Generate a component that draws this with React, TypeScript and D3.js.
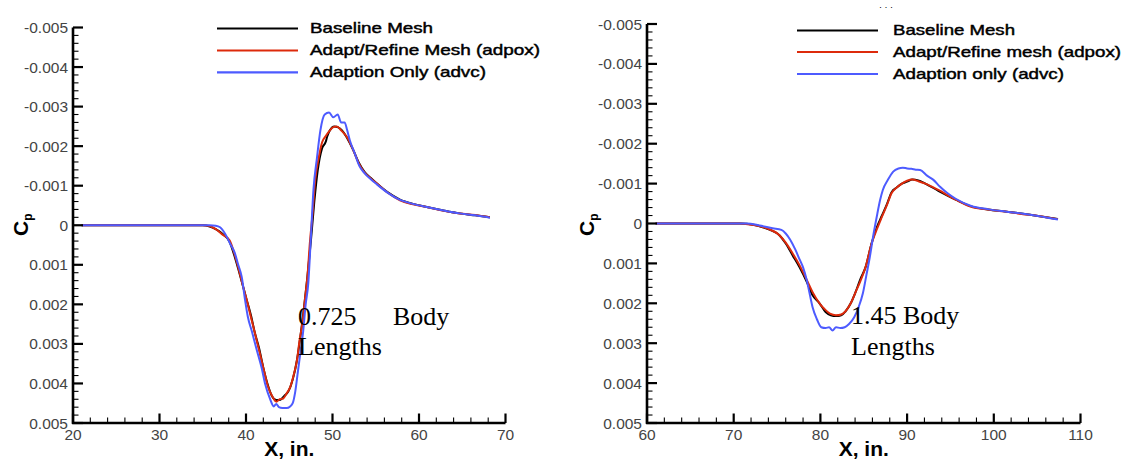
import React from "react";
import * as d3 from "d3";

// ---------- data ----------
type P = [number, number];

const seriesNames = ["Baseline Mesh", "Adapt/Refine Mesh (adpox)", "Adaption Only (advc)"];
const seriesNamesRight = ["Baseline Mesh", "Adapt/Refine mesh (adpox)", "Adaption only (advc)"];

const yTicks = [-0.005, -0.004, -0.003, -0.002, -0.001, 0, 0.001, 0.002, 0.003, 0.004, 0.005];
const yTickLabels = ["-0.005", "-0.004", "-0.003", "-0.002", "-0.001", "0", "0.001", "0.002", "0.003", "0.004", "0.005"];
const xTicksLeft = [20, 30, 40, 50, 60, 70];
const xTicksRight = [60, 70, 80, 90, 100, 110];

// Left panel (0.725 body lengths)
const leftBaseline: P[] = [
  [21, 0], [35, 0], [35.8, 0.00003], [36.5, 0.0001], [37.3, 0.00022], [38.1, 0.00042], [38.7, 0.0008],
  [39.1, 0.0011], [39.6, 0.0015], [40.1, 0.0019], [40.6, 0.0023], [41.0, 0.0027], [41.5, 0.0031],
  [42.0, 0.0036], [42.5, 0.00402], [43.0, 0.00432], [43.5, 0.00442], [44.0, 0.00441], [44.4, 0.00432],
  [44.9, 0.0042], [45.4, 0.0039], [45.9, 0.0034], [46.3, 0.0028], [46.7, 0.0021], [47.1, 0.0013],
  [47.5, 0.0004], [47.9, -0.0006], [48.3, -0.0014], [48.8, -0.00195], [49.2, -0.0021], [49.4, -0.00225],
  [49.7, -0.0024], [50.2, -0.0025], [50.6, -0.00248], [51.1, -0.0024], [51.7, -0.0022], [52.4, -0.0019],
  [53.0, -0.0016], [53.7, -0.00135], [54.4, -0.0012], [55.1, -0.00106], [56.4, -0.00083], [57.8, -0.00065],
  [59.3, -0.00054], [60.9, -0.00046], [62.7, -0.00038], [64.7, -0.0003], [66.5, -0.00025], [68.2, -0.0002],
];
const leftRefine: P[] = [
  [21, 0], [35, 0], [35.8, 0.00002], [36.5, 0.0001], [37.3, 0.00024], [38.1, 0.00038], [38.7, 0.00075],
  [39.1, 0.00106], [39.6, 0.0015], [40.1, 0.0019], [40.6, 0.00235], [41.0, 0.0027], [41.5, 0.00315],
  [42.0, 0.0036], [42.5, 0.00405], [43.1, 0.00435], [43.5, 0.00446], [43.9, 0.0044], [44.3, 0.00438],
  [44.7, 0.00425], [45.1, 0.0041], [45.5, 0.0038], [45.9, 0.0034], [46.2, 0.0029], [46.5, 0.0025],
  [46.8, 0.0019], [47.1, 0.0013], [47.4, 0.0004], [47.7, -0.0003], [48.0, -0.00114], [48.4, -0.0017],
  [48.8, -0.0021], [49.2, -0.00225], [49.7, -0.0024], [50.1, -0.00248], [50.5, -0.0025], [51.0, -0.0024],
  [51.7, -0.00222], [52.4, -0.0019], [53.0, -0.00158], [53.7, -0.00133], [54.4, -0.00119], [55.1, -0.00106],
  [56.4, -0.00082], [57.8, -0.00063], [59.3, -0.00053], [60.9, -0.00046], [62.7, -0.00037], [64.7, -0.0003],
  [66.5, -0.00026], [68.2, -0.0002],
];
const leftAdapt: P[] = [
  [21, 0], [35.8, 0], [36.5, 0.00001], [37.0, 0.00005], [37.6, 0.00022], [38.2, 0.00048], [38.7, 0.0007],
  [39.1, 0.001], [39.5, 0.0013], [39.9, 0.0019], [40.2, 0.0023], [40.7, 0.0027], [41.3, 0.0032],
  [41.8, 0.0036], [42.2, 0.004], [42.8, 0.0044], [43.2, 0.00458], [43.5, 0.00452], [43.8, 0.0046],
  [44.2, 0.00462], [44.7, 0.00462], [45.1, 0.00458], [45.4, 0.0045], [45.7, 0.0042], [46.0, 0.0037],
  [46.3, 0.0032], [46.6, 0.0027], [46.9, 0.002], [47.2, 0.00147], [47.5, 0.0003], [47.8, -0.0009],
  [48.2, -0.0017], [48.6, -0.0024], [49.1, -0.0028], [49.6, -0.00285], [50.1, -0.00273], [50.6, -0.0028],
  [51.0, -0.0026], [51.4, -0.0026], [51.7, -0.0024], [52.0, -0.00215], [52.6, -0.0018], [53.1, -0.0015],
  [53.7, -0.00132], [54.4, -0.00117], [55.1, -0.00104], [56.4, -0.00082], [57.8, -0.00064], [59.3, -0.00054],
  [60.9, -0.00046], [62.7, -0.00038], [64.7, -0.0003], [66.5, -0.00025], [68.2, -0.00019],
];

// Right panel (1.45 body lengths)
const rightBaseline: P[] = [
  [61, 0], [70.7, 0], [72.3, 0.00003], [73.8, 0.00013], [75.3, 0.0003], [76.0, 0.0005], [76.8, 0.0008],
  [77.6, 0.0011], [78.4, 0.00145], [79.1, 0.0018], [79.9, 0.002], [80.6, 0.00222], [81.2, 0.0023],
  [81.8, 0.00232], [82.4, 0.0023], [82.9, 0.0022], [83.5, 0.002], [84.0, 0.00175], [84.6, 0.0014],
  [85.2, 0.0011], [85.9, 0.0005], [86.5, 0.0001], [87.1, -0.0002], [87.7, -0.0005], [88.2, -0.00078],
  [88.8, -0.0009], [89.4, -0.001], [90.0, -0.00105], [90.6, -0.0011], [91.3, -0.00108], [92.1, -0.001],
  [93.6, -0.00082], [95.6, -0.0006], [97.4, -0.00043], [99.3, -0.00035], [101.3, -0.0003], [103.2, -0.00025],
  [105.1, -0.00019], [107.4, -0.00011],
];
const rightRefine: P[] = [
  [61, 0], [70.7, 0], [72.3, 0.00004], [73.8, 0.00012], [75.3, 0.0003], [76.0, 0.00048], [76.8, 0.00075],
  [77.6, 0.00105], [78.4, 0.0014], [79.1, 0.00172], [79.9, 0.002], [80.5, 0.00215], [81.1, 0.00226],
  [81.8, 0.0023], [82.4, 0.00228], [82.9, 0.0022], [83.5, 0.002], [84.0, 0.00175], [84.6, 0.00145],
  [85.2, 0.0011], [85.9, 0.0005], [86.5, 0.00015], [87.1, -0.00017], [87.7, -0.00048], [88.2, -0.00076],
  [88.8, -0.0009], [89.4, -0.001], [90.0, -0.00107], [90.6, -0.0011], [91.3, -0.00106], [92.1, -0.001],
  [93.6, -0.00084], [95.6, -0.0006], [97.4, -0.00042], [99.3, -0.00035], [101.3, -0.0003], [103.2, -0.00024],
  [105.1, -0.00019], [107.4, -0.00011],
];
const rightAdapt: P[] = [
  [61, 0], [71.5, 0], [73.0, 0.00005], [74.5, 0.00012], [75.5, 0.00016], [76.0, 0.00025], [76.5, 0.0004],
  [77.1, 0.00065], [77.6, 0.0009], [78.0, 0.0011], [78.4, 0.0014], [78.8, 0.0018], [79.1, 0.0021],
  [79.6, 0.0024], [80.1, 0.0026], [80.6, 0.00262], [81.0, 0.0026], [81.4, 0.00268], [81.8, 0.0026],
  [82.3, 0.00262], [82.8, 0.0026], [83.3, 0.00252], [83.9, 0.00235], [84.4, 0.0021], [84.9, 0.00175],
  [85.3, 0.0013], [85.7, 0.00084], [86.1, 0.0003], [86.5, -0.00017], [86.9, -0.0006], [87.2, -0.00084],
  [87.8, -0.0011], [88.4, -0.0013], [89.0, -0.00138], [89.5, -0.0014], [90.0, -0.00138], [90.5, -0.00137],
  [91.0, -0.00135], [91.5, -0.00134], [92.3, -0.0012], [93.0, -0.0011], [93.8, -0.00092], [94.6, -0.00077],
  [95.6, -0.00062], [97.4, -0.00044], [99.3, -0.00036], [101.3, -0.0003], [103.2, -0.00025], [105.1, -0.00019],
  [107.4, -0.0001],
];

const colors = ["#000000", "#dd2a0b", "#4d5bff"];

// ---------- panel ----------
type PanelProps = {
  xDomain: [number, number];
  xRange: [number, number];
  yRange: [number, number];
  xTicks: number[];
  series: P[][];
  names: string[];
  legendX: number;
  legendTextX: number;
  legendY: number[];
  legendWidths: number[];
  cpX: number;
};

function Panel(props: PanelProps) {
  const { xDomain, xRange, yRange, xTicks, series, names } = props;
  const x = d3.scaleLinear().domain(xDomain).range(xRange);
  const y = d3.scaleLinear().domain([-0.005, 0.005]).range(yRange);
  const x0 = xRange[0];
  const yb = yRange[1];
  const line = d3
    .line<P>()
    .x((d) => x(d[0]))
    .y((d) => y(d[1]))
    .curve(d3.curveMonotoneX);

  const xMinor = d3.range(xDomain[0], xDomain[1] + 0.001, 2).filter((v) => Math.abs(v % 10) > 0.01);
  const yMinor = d3.range(-0.005, 0.00501, 0.0002).filter((v) => Math.abs(Math.round(v * 10000) % 10) > 0);

  const tickFont = "'Liberation Sans', Arial, sans-serif";
  return (
    <g>
      {/* series */}
      {series.map((s, i) => (
        <path key={i} d={line(s) || ""} fill="none" stroke={colors[i]} strokeWidth={2} strokeLinejoin="round" />
      ))}
      {/* axes */}
      <line x1={x0} x2={x0} y1={yRange[0]} y2={yb + 1} stroke="#000" strokeWidth={2.6} />
      <line x1={x0 - 1} x2={xRange[1]} y1={yb} y2={yb} stroke="#000" strokeWidth={2.6} />
      {yTicks.map((v) => (
        <line key={"yt" + v} x1={x0} x2={x0 + 10} y1={y(v)} y2={y(v)} stroke="#000" strokeWidth={2.2} />
      ))}
      {yMinor.map((v) => (
        <line key={"ym" + v} x1={x0} x2={x0 + 5.5} y1={y(v)} y2={y(v)} stroke="#000" strokeWidth={1.1} />
      ))}
      {xTicks.map((v) => (
        <line key={"xt" + v} x1={x(v)} x2={x(v)} y1={yb} y2={yb - 9.5} stroke="#000" strokeWidth={2.2} />
      ))}
      {xMinor.map((v) => (
        <line key={"xm" + v} x1={x(v)} x2={x(v)} y1={yb} y2={yb - 5.5} stroke="#000" strokeWidth={1.1} />
      ))}
      {yTicks.map((v, i) => (
        <text
          key={"yl" + v}
          x={x0 - 5}
          y={y(v)}
          dy="0.36em"
          textAnchor="end"
          fontFamily={tickFont}
          fontSize={15.5}
          fill="#444"
        >
          {yTickLabels[i]}
        </text>
      ))}
      {xTicks.map((v) => (
        <text
          key={"xl" + v}
          x={x(v)}
          y={yb + 17}
          textAnchor="middle"
          fontFamily={tickFont}
          fontSize={15.5}
          fill="#444"
        >
          {v}
        </text>
      ))}
      {/* axis titles */}
      <text
        x={(xRange[0] + xRange[1]) / 2}
        y={456}
        textAnchor="middle"
        fontFamily={tickFont}
        fontWeight="bold"
        fontSize={21}
        fill="#000"
      >
        X, in.
      </text>
      <text
        transform={`translate(${props.cpX},236) rotate(-90)`}
        fontFamily={tickFont}
        fontWeight="bold"
        fontSize={21}
        fill="#000"
      >
        C
        <tspan dy={4} fontSize={12}>
          p
        </tspan>
      </text>
      {/* legend */}
      {names.map((n, i) => (
        <g key={"lg" + i}>
          <line
            x1={props.legendX}
            x2={props.legendX + 81}
            y1={props.legendY[i]}
            y2={props.legendY[i]}
            stroke={colors[i]}
            strokeWidth={2.2}
          />
          <text
            x={props.legendTextX}
            y={props.legendY[i]}
            dy="0.33em"
            fontFamily={tickFont}
            fontSize={15}
            fill="#000"
            stroke="#000"
            strokeWidth={0.45}
            textLength={props.legendWidths[i]}
            lengthAdjust="spacingAndGlyphs"
          >
            {n}
          </text>
        </g>
      ))}
    </g>
  );
}

export default function App() {
  const serif = "'Liberation Serif', 'Times New Roman', serif";
  return (
    <svg
      width={1131}
      height={465}
      style={{ position: "absolute", left: 0, top: 0, background: "#fff" }}
      xmlns="http://www.w3.org/2000/svg"
    >
      <rect width={1131} height={465} fill="#fff" />
      <Panel
        xDomain={[20, 70]}
        xRange={[73, 505.5]}
        yRange={[27.5, 423]}
        xTicks={xTicksLeft}
        series={[leftBaseline, leftRefine, leftAdapt]}
        names={seriesNames}
        legendX={217}
        legendTextX={310}
        legendY={[28.5, 50.5, 72.3]}
        legendWidths={[123, 230, 176]}
        cpX={28}
      />
      <Panel
        xDomain={[60, 110]}
        xRange={[647, 1080.5]}
        yRange={[24, 423]}
        xTicks={xTicksRight}
        series={[rightBaseline, rightRefine, rightAdapt]}
        names={seriesNamesRight}
        legendX={797}
        legendTextX={893}
        legendY={[30.5, 52, 74]}
        legendWidths={[122, 228, 171]}
        cpX={594}
      />
      <text x={879} y={10} fontFamily="'Liberation Sans', Arial, sans-serif" fontSize={9} fill="#000">
        · · ·
      </text>
      {/* annotations */}
      <text x={298} y={325} fontFamily={serif} fontSize={26} fill="#000">
        0.725
      </text>
      <text x={393} y={325} fontFamily={serif} fontSize={26} fill="#000">
        Body
      </text>
      <text x={298} y={355} fontFamily={serif} fontSize={26} fill="#000">
        Lengths
      </text>
      <text x={851} y={324} fontFamily={serif} fontSize={26} fill="#000">
        1.45 Body
      </text>
      <text x={851} y={355} fontFamily={serif} fontSize={26} fill="#000">
        Lengths
      </text>
    </svg>
  );
}
